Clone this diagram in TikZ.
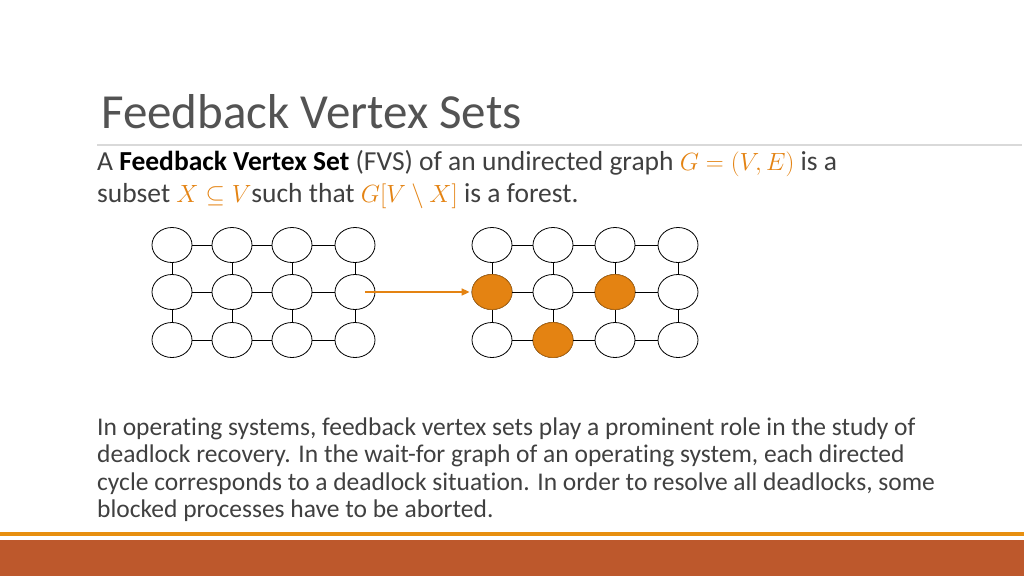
\documentclass[tikz,border=0pt]{standalone}
\usepackage{fontspec}
\setmainfont[RawFeature=-liga]{Carlito}
\usetikzlibrary{shapes.geometric,arrows.meta}
\definecolor{txt}{HTML}{404040}
\definecolor{orng}{HTML}{E48312}
\definecolor{band}{HTML}{BD582C}
\definecolor{fillo}{HTML}{E48312}
\begin{document}
\begin{tikzpicture}[x=1pt,y=-1pt,
  v/.style={draw=black,fill=white,ellipse,minimum width=40pt,minimum height=35pt,inner sep=0pt,line width=0.8pt},
  vf/.style={v,fill=fillo,draw=fillo!80!black},
  e/.style={line width=0.8pt},
  txtline/.style={anchor=base west,inner sep=0pt,text=txt}]
\useasboundingbox (0,0) rectangle (1024,576);
\fill[white] (0,0) rectangle (1024,576);
\node[txtline,font=\fontsize{49}{54}\selectfont,text=txt!90] (title) at (101,128) {Feedback Vertex Sets};
\draw[black!15,line width=1.2pt] (97,145) -- (1022,145);
\node[txtline,font=\fontsize{27.5}{32}\selectfont] (l1) at (97,170) {A \textbf{\color{black}Feedback Vertex Set} (FVS) of an undirected graph \textcolor{orng}{$G=(V,E)$} is a};
\node[txtline,font=\fontsize{27.5}{32}\selectfont] (l2) at (97,202) {subset \textcolor{orng}{$X\subseteq V$}such that \textcolor{orng}{$G[V\setminus X]$} is a forest.};
% grids
\foreach \g/\xs in {a/{172,232,292,355},b/{492,553,615,678}}{
  \foreach \x [count=\i] in \xs {
    \foreach \y [count=\j] in {245,292,340} {
      \node[v] (\g\i\j) at (\x,\y) {};
    }
  }
}
\node[vf] at (b12) {};
\node[vf] at (b32) {};
\node[vf] at (b23) {};
\foreach \g in {a,b}{
  \foreach \i/\k in {1/2,2/3,3/4}{
    \foreach \j in {1,2,3}{ \draw[e] (\g\i\j) -- (\g\k\j); }
  }
  \foreach \i in {1,2,3,4}{
    \draw[e] (\g\i1) -- (\g\i2);
    \draw[e] (\g\i2) -- (\g\i3);
  }
}
\coordinate (s) at ([xshift=10pt]a42.center);
\draw[orng,line width=1.6pt,-{Triangle[length=8pt,width=7pt]}] (s) -- ([xshift=-2pt]b12.west);
\foreach \t [count=\n] in {{In operating systems, feedback vertex sets play a prominent role in the study of},{deadlock recovery. In the wait-for graph of an operating system, each directed},{cycle corresponds to a deadlock situation. In order to resolve all deadlocks, some},{blocked processes have to be aborted.}}{
  \node[txtline,font=\fontsize{25.5}{30}\selectfont] (p\n) at (97,{428+27.5*(\n-1)+7}) {\t};
}
\fill[orng!90!yellow] (0,532) rectangle (1024,536);
\fill[band] (0,540) rectangle (1024,576);
\end{tikzpicture}
\end{document}
